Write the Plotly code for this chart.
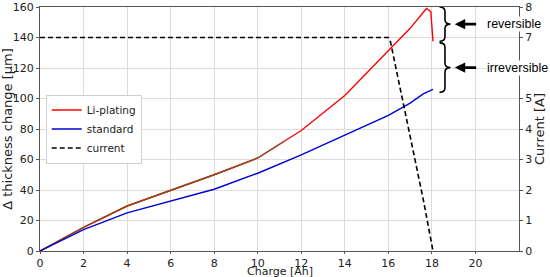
import plotly.graph_objects as go

FONT = "DejaVu Sans"

# Li-plating cell, thickness change [um] vs charge [Ah]
li_charge = [0, 2, 4, 6, 8, 10, 12, 14, 16, 17.0, 17.75, 17.95, 18.05]
li_thick = [0, 15.5, 29.5, 39.5, 50, 61, 79, 102, 131, 146, 159, 157, 137.5]

# standard cell
std_charge = [0, 2, 4, 6, 8, 10, 12, 14, 16, 17.0, 17.6, 18.05]
std_thick = [0, 14, 25, 33, 40.5, 51, 63, 76, 89, 97, 103, 106]

# charging current [A]
cur_charge = [0, 16.0, 16.1, 17.05, 17.6, 18.05]
cur_amp = [7, 7, 6.85, 3.65, 1.7, 0]

# right-axis ticks (6 is hidden behind the "irreversible" label in the original)
cur_ticks = [0, 1, 2, 3, 4, 5, 7, 8]

fig = go.Figure()

fig.add_trace(go.Scatter(
    x=li_charge, y=li_thick, mode="lines", name="Li-plating",
    line=dict(color="#ff0000", width=1.4),
))
# early part of the Li-plating curve looks brown in the picture (overlapped line)
n_brown = 6
fig.add_trace(go.Scatter(
    x=li_charge[:n_brown] + [11.2], y=li_thick[:n_brown] + [71.8],
    mode="lines", showlegend=False, hoverinfo="skip",
    line=dict(color="#8a4a1c", width=1.4),
))
fig.add_trace(go.Scatter(
    x=std_charge, y=std_thick, mode="lines", name="standard",
    line=dict(color="#0000d0", width=1.4),
))
fig.add_trace(go.Scatter(
    x=cur_charge, y=cur_amp, mode="lines", name="current", yaxis="y2",
    line=dict(color="black", width=1.6, dash="5px,3px"),
))

# braces: reversible (peak -> end of Li-plating), irreversible (end Li -> end standard)
def brace(yt, yb, x0=18.35, x1=18.6, x2=18.85, d=3.0):
    ym = (yt + yb) / 2
    return (f"M {x0},{yt} Q {x1},{yt} {x1},{yt - d} L {x1},{ym + d} "
            f"Q {x1},{ym} {x2},{ym} Q {x1},{ym} {x1},{ym - d} "
            f"L {x1},{yb + d} Q {x1},{yb} {x0},{yb}")

top = 160
mid = li_thick[-1] - 0.5
bot = std_thick[-1] - 2
for yt, yb, label in [(top, mid + 0.5, "reversible"), (mid - 0.5, bot, "irreversible")]:
    fig.add_shape(type="path", path=brace(yt, yb), xref="x", yref="y",
                  line=dict(color="black", width=1.6))
    ym = (yt + yb) / 2
    fig.add_annotation(x=19.05, y=ym, ax=20.1, ay=ym, xref="x", yref="y",
                       axref="x", ayref="y", text="", showarrow=True,
                       arrowhead=2, arrowsize=0.8, arrowwidth=2.6, arrowcolor="black")
    fig.add_annotation(x=20.5, y=ym, xref="x", yref="y", text=label,
                       showarrow=False, xanchor="left", bgcolor="white", borderpad=0,
                       font=dict(family="Liberation Sans", size=12.5, color="black"))

# x-axis title placed as a paper annotation so it sits just under the tick labels
fig.add_annotation(x=0.5, y=-0.055, xref="paper", yref="paper", text="Charge [Ah]",
                   showarrow=False, xanchor="center", yanchor="top", borderpad=0,
                   font=dict(family=FONT, size=11, color="#222"))

fig.update_layout(
    width=550, height=277,
    margin=dict(l=40, r=31, t=7, b=26, autoexpand=False),
    paper_bgcolor="white", plot_bgcolor="white",
    font=dict(family=FONT, size=11, color="#222"),
    showlegend=True,
    legend=dict(x=0.012, y=0.5, xanchor="left", yanchor="middle",
                bgcolor="white", bordercolor="#d0d0d0", borderwidth=1,
                font=dict(size=10.5), tracegroupgap=0, itemwidth=30),
    xaxis=dict(range=[0, 22], tickvals=list(range(0, 21, 2)), automargin=False,
               showgrid=True, gridcolor="#dcdcdc", zeroline=False,
               showline=True, linecolor="#555", mirror=True,
               ticks="outside", ticklen=2, tickcolor="#555"),
    yaxis=dict(range=[0, 160], dtick=20, automargin=False,
               showgrid=True, gridcolor="#dcdcdc", zeroline=False,
               showline=True, linecolor="#555",
               ticks="outside", ticklen=3, tickcolor="#555",
               title=dict(text="Δ thickness change [µm]", standoff=4)),
    yaxis2=dict(range=[0, 8], tickvals=cur_ticks, overlaying="y", side="right",
                automargin=False, showgrid=False, zeroline=False,
                showline=True, linecolor="#555",
                ticks="outside", ticklen=3, tickcolor="#555",
                title=dict(text="Current [A]", standoff=2)),
)

fig.write_html("out.html", config={"displayModeBar": False},
               post_script="document.body.style.margin='0';")
